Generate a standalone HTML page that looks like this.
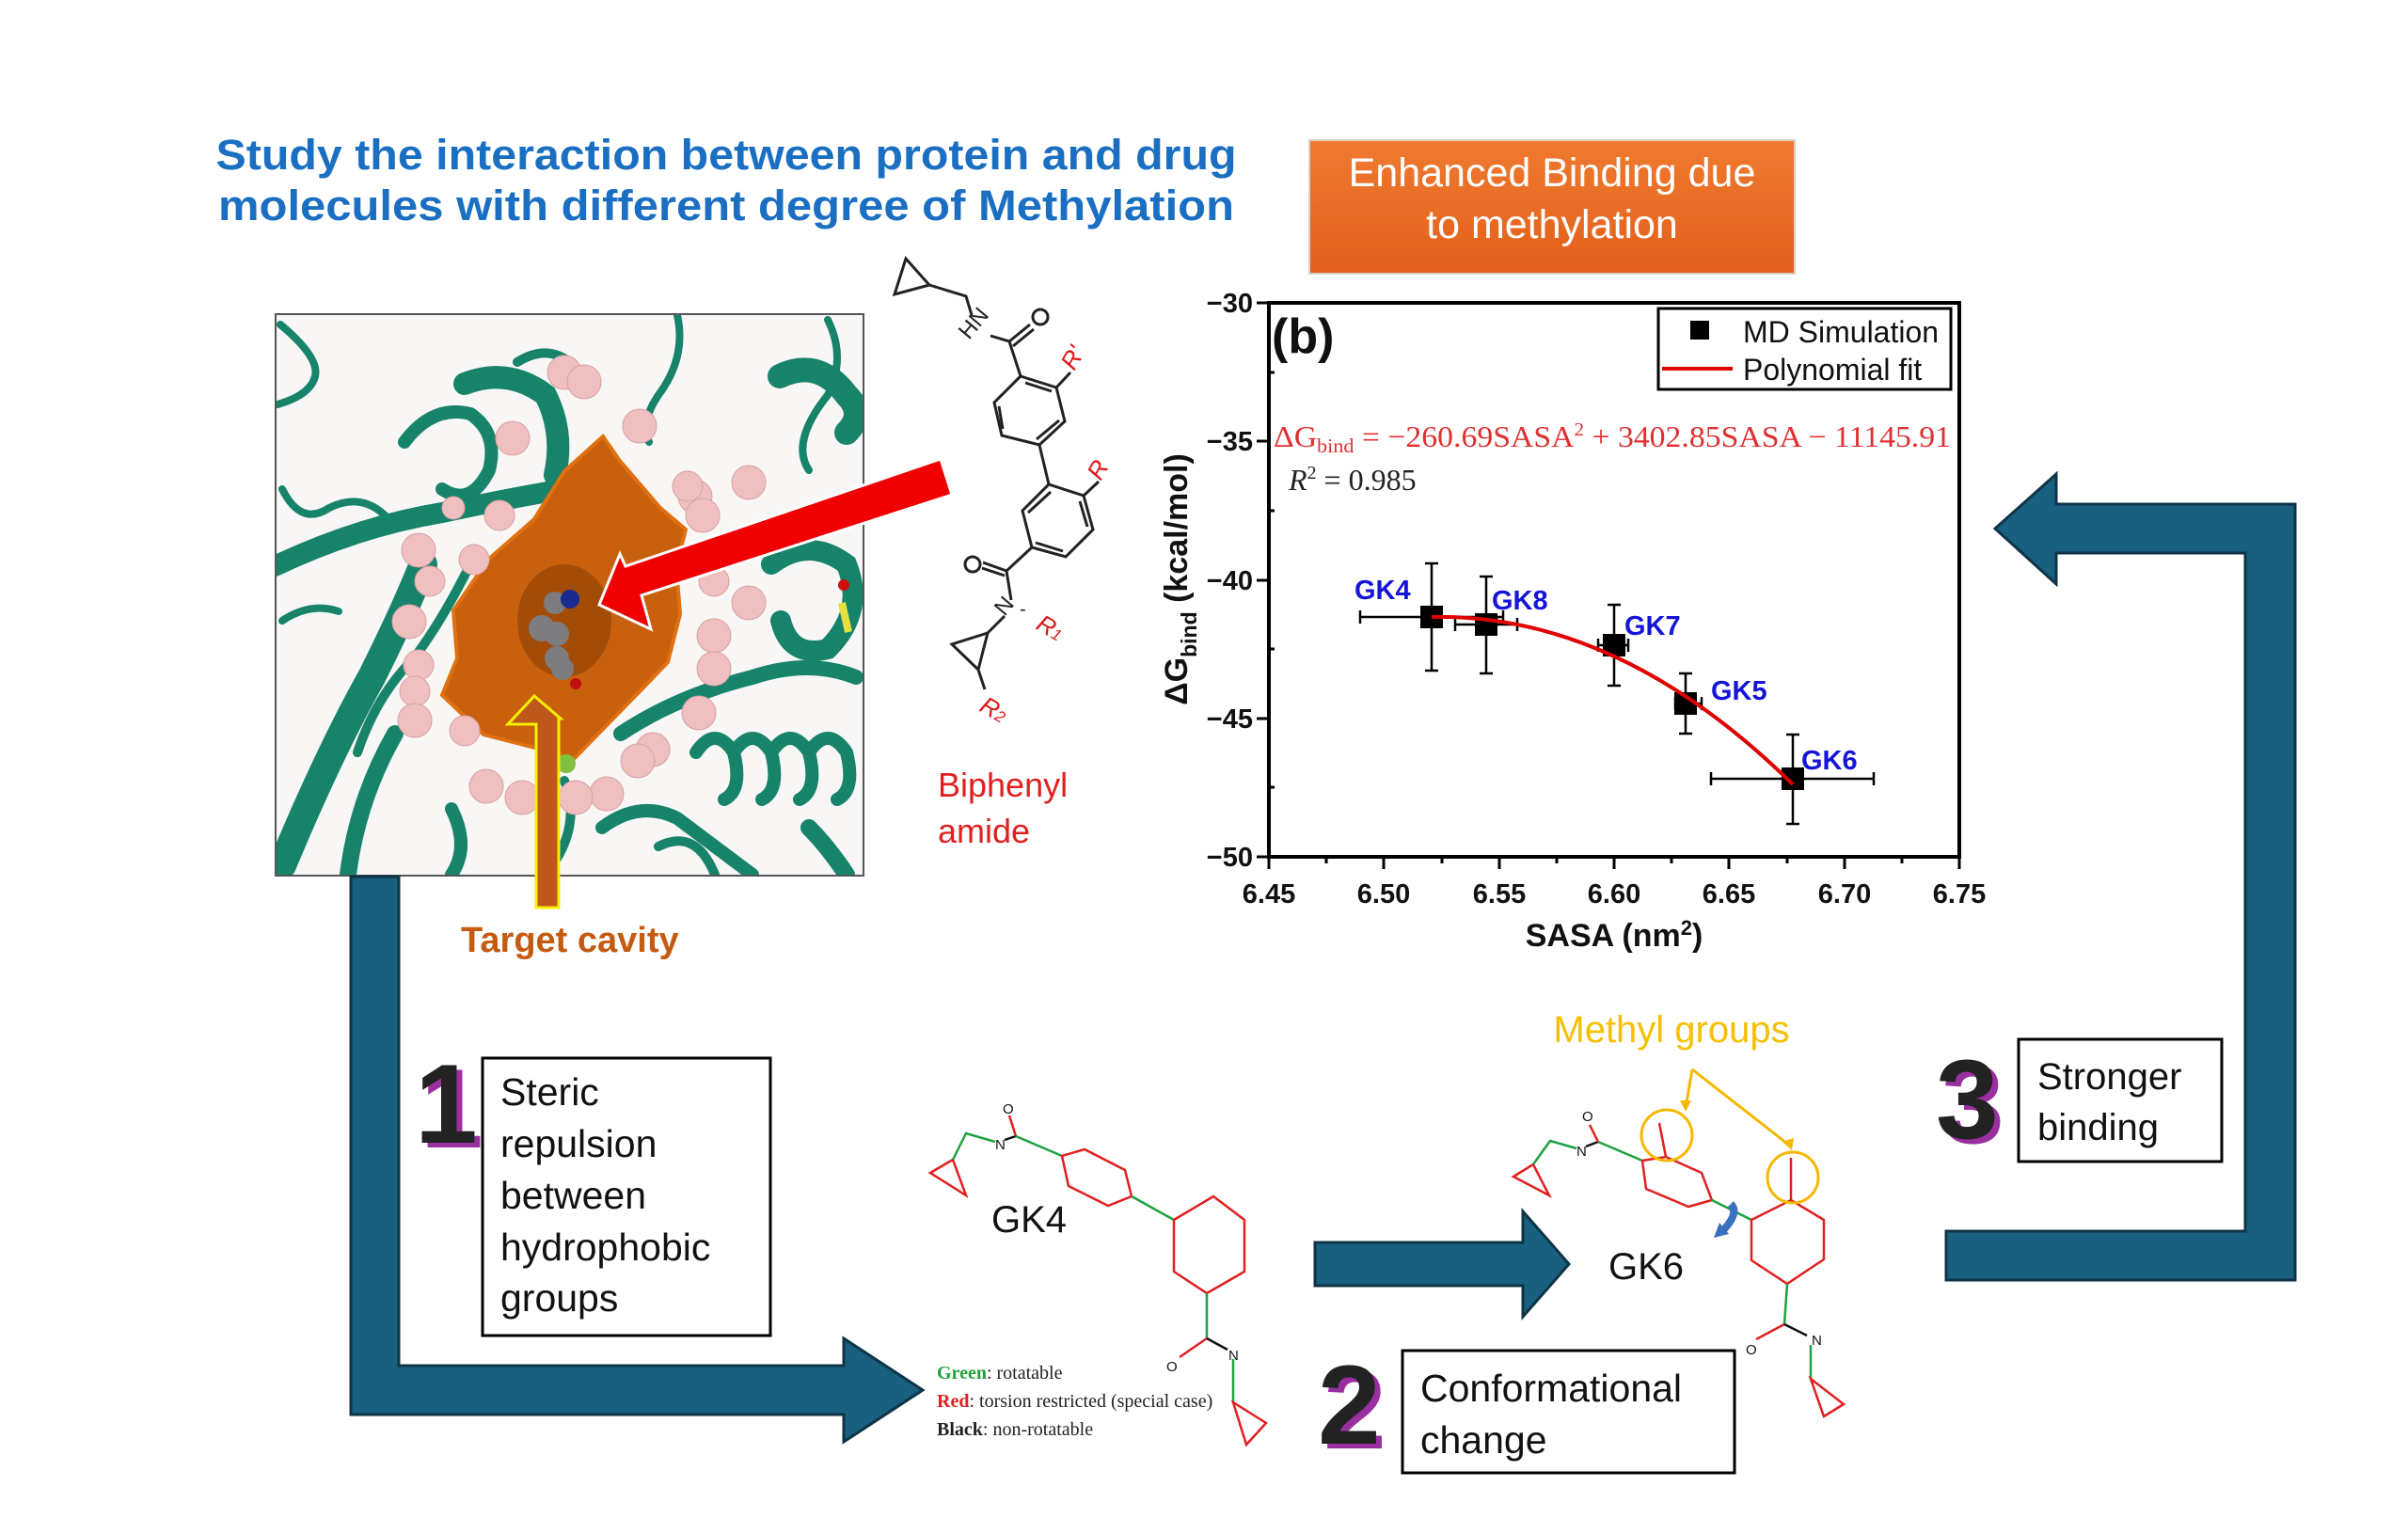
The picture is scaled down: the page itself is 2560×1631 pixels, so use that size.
<!DOCTYPE html>
<html><head><meta charset="utf-8"><style>
html,body{margin:0;padding:0;background:#fff;}
svg{display:block;}
</style></head><body>
<svg width="2560" height="1631" viewBox="0 0 2560 1631" xmlns="http://www.w3.org/2000/svg" font-family="Liberation Sans, sans-serif">
<defs>
<linearGradient id="og" x1="0" y1="0" x2="0" y2="1"><stop offset="0" stop-color="#f07a30"/><stop offset="1" stop-color="#e25f1a"/></linearGradient>
</defs>
<rect width="2560" height="1631" fill="#fff"/>

<text x="772" y="180" text-anchor="middle" font-size="45" font-weight="bold" fill="#1a6fc2" textLength="1085" lengthAdjust="spacingAndGlyphs">Study the interaction between protein and drug</text>
<text x="772" y="234" text-anchor="middle" font-size="45" font-weight="bold" fill="#1a6fc2" textLength="1080" lengthAdjust="spacingAndGlyphs">molecules with different degree of Methylation</text>

<rect x="1392" y="149" width="516" height="142" fill="url(#og)" stroke="#d9d0c8" stroke-width="2"/>
<text x="1650" y="198" text-anchor="middle" font-size="43" fill="#fff">Enhanced Binding due</text>
<text x="1650" y="253" text-anchor="middle" font-size="43" fill="#fff">to methylation</text>

<g>
<rect x="293" y="334" width="625" height="597" fill="#f8f7f5" stroke="#555" stroke-width="2"/>
<clipPath id="pc"><rect x="294" y="335" width="623" height="595"/></clipPath>
<g clip-path="url(#pc)" fill="none" stroke="#17836a" stroke-linecap="round">
<path d="M298,345 Q340,380 335,400 Q330,420 295,430" stroke-width="8"/>
<path d="M292,602 Q380,560 470,545 Q540,530 600,520" stroke-width="22"/>
<path d="M300,920 Q350,800 395,720 Q430,650 450,600" stroke-width="30"/>
<path d="M370,930 Q380,850 420,780" stroke-width="18"/>
<path d="M430,470 Q460,430 500,440 Q530,460 520,500 Q500,540 470,520" stroke-width="14"/>
<path d="M494,408 Q540,390 580,420 Q600,460 590,505" stroke-width="24"/>
<path d="M550,385 Q590,360 620,400" stroke-width="10"/>
<path d="M420,560 Q390,520 350,540 Q320,560 300,520" stroke-width="8"/>
<path d="M300,660 Q330,640 360,650" stroke-width="8"/>
<path d="M720,335 Q730,380 700,420 Q680,450 690,470" stroke-width="8"/>
<path d="M829,400 Q870,380 900,420 Q920,440 900,460" stroke-width="26"/>
<path d="M880,340 Q900,380 880,420 Q840,470 860,500" stroke-width="8"/>
<path d="M820,600 Q860,570 900,600 Q920,650 880,690 Q840,700 830,660" stroke-width="22"/>
<path d="M660,780 Q720,740 800,720 Q860,700 910,720" stroke-width="16"/>
<path d="M740,800 Q760,770 780,800 Q790,840 770,850 M780,800 Q800,770 820,800 Q830,840 810,850 M820,800 Q840,770 860,800 Q870,840 850,850 M860,800 Q880,770 900,800 Q910,840 890,850" stroke-width="14"/>
<path d="M640,880 Q680,850 720,870 Q760,900 800,930" stroke-width="14"/>
<path d="M480,860 Q500,900 480,930" stroke-width="14"/>
<path d="M600,830 Q620,880 580,930" stroke-width="10"/>
<path d="M700,900 Q740,880 760,930" stroke-width="10"/>
<path d="M860,880 Q880,900 900,930" stroke-width="18"/>
<path d="M500,600 Q470,660 440,700 Q400,740 380,800" stroke-width="10"/>
<path d="M760,600 Q800,580 830,560" stroke-width="10"/>
</g>
<g clip-path="url(#pc)">
<polygon points="641,464 659,490 702,540 729,563 719,602 723,653 710,704 688,727 608,809 592,801 514,781 470,739 486,700 482,649 519,595 568,552 600,501" fill="#c8600e" stroke="#e07010" stroke-width="4"/>
<ellipse cx="600" cy="660" rx="50" ry="60" fill="#8a3f05" opacity="0.6"/>
<g fill="#f0c0c0" stroke="#d8a0a0" stroke-width="1">
<circle cx="600" cy="396" r="18"/><circle cx="621" cy="406" r="18"/><circle cx="680" cy="453" r="18"/><circle cx="545" cy="466" r="18"/><circle cx="796" cy="513" r="18"/><circle cx="739" cy="528" r="18"/><circle cx="747" cy="548" r="18"/><circle cx="445" cy="585" r="18"/><circle cx="504" cy="595" r="16"/><circle cx="435" cy="661" r="18"/><circle cx="457" cy="618" r="16"/><circle cx="445" cy="707" r="16"/><circle cx="441" cy="735" r="16"/><circle cx="441" cy="766" r="18"/><circle cx="796" cy="641" r="18"/><circle cx="759" cy="676" r="18"/><circle cx="759" cy="711" r="18"/><circle cx="743" cy="758" r="18"/><circle cx="694" cy="797" r="18"/><circle cx="678" cy="809" r="18"/><circle cx="645" cy="844" r="18"/><circle cx="612" cy="848" r="18"/><circle cx="517" cy="836" r="18"/><circle cx="555" cy="848" r="18"/><circle cx="494" cy="777" r="16"/><circle cx="531" cy="548" r="16"/><circle cx="482" cy="540" r="12"/><circle cx="731" cy="517" r="16"/><circle cx="759" cy="618" r="16"/>
</g>
<g fill="#7d7d80"><circle cx="590" cy="641" r="12"/><circle cx="576" cy="668" r="14"/><circle cx="592" cy="674" r="13"/><circle cx="592" cy="700" r="13"/><circle cx="598" cy="711" r="12"/></g>
<circle cx="606" cy="637" r="10" fill="#1a2a90"/><circle cx="612" cy="727" r="6" fill="#c01010"/>
<circle cx="602" cy="812" r="10" fill="#80c040"/>
<path d="M895,641 L902,672" stroke="#e6e040" stroke-width="8"/><circle cx="897" cy="622" r="6" fill="#d01010"/>
</g>
<polygon points="1000,488 1012,526 682,633 692,669 637,643 659,589 665,602" fill="#f00000" stroke="#fff" stroke-width="3"/>
<polygon points="570,965 570,770 540,770 568,740 596,764 594,764 594,965" fill="#c0581c" stroke="#f5f000" stroke-width="3"/>
</g>
<text x="490" y="1012" font-size="38" font-weight="bold" fill="#c55a11">Target cavity</text>

<g fill="none" stroke="#222" stroke-width="3">
<polygon points="951,313 963,275 988,303"/>
<polyline points="988,303 1027,315 1033,335"/>
<polyline points="1053,357 1073,363 1085,400"/>
<line x1="1073" y1="363" x2="1095" y2="345"/><line x1="1077" y1="368" x2="1099" y2="350"/>
<circle cx="1106" cy="337" r="8"/>
<polygon points="1085,400 1123,412 1132,448 1105,473 1065,463 1057,428"/>
<line x1="1090" y1="407" x2="1118" y2="416"/><line x1="1126" y1="447" x2="1102" y2="467"/><line x1="1066" y1="456" x2="1062" y2="432"/>
<line x1="1123" y1="412" x2="1138" y2="396"/>
<line x1="1105" y1="473" x2="1115" y2="515"/>
<polygon points="1115,515 1152,527 1162,563 1133,592 1097,582 1087,543"/>
<line x1="1148" y1="533" x2="1156" y2="560"/><line x1="1130" y1="586" x2="1101" y2="577"/><line x1="1093" y1="545" x2="1117" y2="523"/>
<line x1="1152" y1="527" x2="1168" y2="512"/>
<polyline points="1097,582 1070,607 1075,638"/>
<line x1="1070" y1="607" x2="1045" y2="598"/><line x1="1068" y1="612" x2="1044" y2="604"/>
<circle cx="1034" cy="600" r="8"/>
<line x1="1068" y1="655" x2="1050" y2="673"/>
<polygon points="1050,673 1012,685 1040,712"/>
<line x1="1040" y1="712" x2="1047" y2="733"/>
</g>
<text x="1030" y="362" font-size="24" fill="#222" transform="rotate(-50 1030 362)">HN</text>
<text x="1068" y="656" font-size="24" fill="#222" transform="rotate(-50 1068 656)">N</text>
<text x="1084" y="654" font-size="20" fill="#222">-</text>
<g fill="#e01818" font-style="italic" font-size="26">
<text x="1142" y="395" transform="rotate(-60 1142 395)">R'</text>
<text x="1170" y="512" transform="rotate(-60 1170 512)">R</text>
<text x="1100" y="668" transform="rotate(30 1100 668)">R<tspan font-size="17">1</tspan></text>
<text x="1040" y="755" transform="rotate(30 1040 755)">R<tspan font-size="17">2</tspan></text>
</g>
<text x="997" y="847" font-size="36" fill="#e02020">Biphenyl</text>
<text x="997" y="896" font-size="36" fill="#e02020">amide</text>

<g>
<rect x="1349" y="322" width="734" height="589" fill="none" stroke="#000" stroke-width="4"/>
<g stroke="#000" stroke-width="3">
<line x1="1349" y1="911" x2="1349" y2="924"/><line x1="1471" y1="911" x2="1471" y2="924"/><line x1="1594" y1="911" x2="1594" y2="924"/><line x1="1716" y1="911" x2="1716" y2="924"/><line x1="1838" y1="911" x2="1838" y2="924"/><line x1="1961" y1="911" x2="1961" y2="924"/><line x1="2083" y1="911" x2="2083" y2="924"/>
<line x1="1410" y1="911" x2="1410" y2="918"/><line x1="1533" y1="911" x2="1533" y2="918"/><line x1="1655" y1="911" x2="1655" y2="918"/><line x1="1777" y1="911" x2="1777" y2="918"/><line x1="1900" y1="911" x2="1900" y2="918"/><line x1="2022" y1="911" x2="2022" y2="918"/>
<line x1="1336" y1="322" x2="1349" y2="322"/><line x1="1336" y1="469" x2="1349" y2="469"/><line x1="1336" y1="617" x2="1349" y2="617"/><line x1="1336" y1="764" x2="1349" y2="764"/><line x1="1336" y1="911" x2="1349" y2="911"/>
<line x1="1349" y1="396" x2="1355" y2="396"/><line x1="1349" y1="543" x2="1355" y2="543"/><line x1="1349" y1="690" x2="1355" y2="690"/><line x1="1349" y1="837" x2="1355" y2="837"/>
</g>
<g font-size="29" font-weight="bold" fill="#111" text-anchor="middle">
<text x="1349" y="960">6.45</text><text x="1471" y="960">6.50</text><text x="1594" y="960">6.55</text><text x="1716" y="960">6.60</text><text x="1838" y="960">6.65</text><text x="1961" y="960">6.70</text><text x="2083" y="960">6.75</text>
</g>
<g font-size="29" font-weight="bold" fill="#111" text-anchor="end">
<text x="1332" y="332">−30</text><text x="1332" y="479">−35</text><text x="1332" y="627">−40</text><text x="1332" y="774">−45</text><text x="1332" y="921">−50</text>
</g>
<text x="1716" y="1006" text-anchor="middle" font-size="34" font-weight="bold" fill="#111">SASA (nm<tspan dy="-12" font-size="22">2</tspan><tspan dy="12">)</tspan></text>
<text transform="translate(1262,616) rotate(-90)" text-anchor="middle" font-size="34" font-weight="bold" fill="#111">ΔG<tspan dy="10" font-size="23">bind</tspan><tspan dy="-10"> (kcal/mol)</tspan></text>
<text x="1352" y="375" font-size="52" font-weight="bold" fill="#111">(b)</text>
<rect x="1763" y="328" width="311" height="86" fill="#fff" stroke="#000" stroke-width="3"/>
<rect x="1797" y="341" width="20" height="20" fill="#000"/>
<text x="1853" y="364" font-size="32" fill="#111">MD Simulation</text>
<line x1="1767" y1="392" x2="1842" y2="392" stroke="#e00000" stroke-width="4"/>
<text x="1853" y="404" font-size="32" fill="#111">Polynomial fit</text>
<text x="1354" y="475" font-family="Liberation Serif, serif" font-size="32" fill="#e03030" textLength="720" lengthAdjust="spacingAndGlyphs">ΔG<tspan font-size="21" dy="6">bind</tspan><tspan dy="-6"> = −260.69SASA</tspan><tspan font-size="20" dy="-12">2</tspan><tspan dy="12"> + 3402.85SASA − 11145.91</tspan></text>
<text x="1370" y="521" font-family="Liberation Serif, serif" font-size="32" fill="#222"><tspan font-style="italic">R</tspan><tspan font-size="20" dy="-12">2</tspan><tspan dy="12"> = 0.985</tspan></text>
<g stroke="#000" stroke-width="2.5">
<line x1="1522" y1="599" x2="1522" y2="713"/><line x1="1515" y1="599" x2="1529" y2="599"/><line x1="1515" y1="713" x2="1529" y2="713"/>
<line x1="1446" y1="656" x2="1598" y2="656"/><line x1="1446" y1="649" x2="1446" y2="663"/><line x1="1598" y1="649" x2="1598" y2="663"/>
<line x1="1580" y1="613" x2="1580" y2="716"/><line x1="1573" y1="613" x2="1587" y2="613"/><line x1="1573" y1="716" x2="1587" y2="716"/>
<line x1="1547" y1="664" x2="1613" y2="664"/><line x1="1547" y1="657" x2="1547" y2="671"/><line x1="1613" y1="657" x2="1613" y2="671"/>
<line x1="1716" y1="643" x2="1716" y2="729"/><line x1="1709" y1="643" x2="1723" y2="643"/><line x1="1709" y1="729" x2="1723" y2="729"/>
<line x1="1699" y1="686" x2="1731" y2="686"/><line x1="1699" y1="679" x2="1699" y2="693"/><line x1="1731" y1="679" x2="1731" y2="693"/>
<line x1="1792" y1="716" x2="1792" y2="780"/><line x1="1785" y1="716" x2="1799" y2="716"/><line x1="1785" y1="780" x2="1799" y2="780"/>
<line x1="1781" y1="748" x2="1809" y2="748"/><line x1="1781" y1="741" x2="1781" y2="755"/><line x1="1809" y1="741" x2="1809" y2="755"/>
<line x1="1906" y1="781" x2="1906" y2="876"/><line x1="1899" y1="781" x2="1913" y2="781"/><line x1="1899" y1="876" x2="1913" y2="876"/>
<line x1="1819" y1="828" x2="1992" y2="828"/><line x1="1819" y1="821" x2="1819" y2="835"/><line x1="1992" y1="821" x2="1992" y2="835"/>
</g>
<g fill="#000">
<rect x="1510" y="644" width="24" height="24"/><rect x="1568" y="652" width="24" height="24"/><rect x="1704" y="674" width="24" height="24"/><rect x="1780" y="736" width="24" height="24"/><rect x="1894" y="816" width="24" height="24"/>
</g>
<path d="M1522,656 Q1721,652 1906,834" fill="none" stroke="#e00000" stroke-width="4"/>
<g font-size="29" font-weight="bold" fill="#1515d8">
<text x="1440" y="637">GK4</text><text x="1586" y="648">GK8</text><text x="1727" y="675">GK7</text><text x="1819" y="744">GK5</text><text x="1915" y="818">GK6</text>
</g>
</g>

<g fill="#185f80" stroke="#0e3446" stroke-width="3">
<polygon points="373,932 424,932 424,1452 897,1452 897,1423 981,1478 897,1533 897,1504 373,1504"/>
<polygon points="1398,1321 1619,1321 1619,1288 1668,1344 1619,1400 1619,1367 1398,1367"/>
<polygon points="2440,536 2440,1361 2069,1361 2069,1309 2387,1309 2387,588 2186,588 2186,621 2121,562 2186,504 2186,536"/>
</g>

<rect x="513" y="1125" width="306" height="295" fill="#fff" stroke="#000" stroke-width="3"/>
<g font-size="41" fill="#111">
<text x="532" y="1175">Steric</text><text x="532" y="1230">repulsion</text><text x="532" y="1285">between</text><text x="532" y="1340">hydrophobic</text><text x="532" y="1394">groups</text>
</g>
<text x="447" y="1220" font-size="120" font-weight="bold" fill="#9a30a0">1</text>
<text x="441" y="1215" font-size="120" font-weight="bold" fill="#222">1</text>

<rect x="1491" y="1436" width="353" height="130" fill="#fff" stroke="#000" stroke-width="3"/>
<text x="1510" y="1490" font-size="41" fill="#111">Conformational</text>
<text x="1510" y="1545" font-size="41" fill="#111">change</text>
<text x="1407" y="1540" font-size="120" font-weight="bold" fill="#9a30a0">2</text>
<text x="1401" y="1535" font-size="120" font-weight="bold" fill="#222">2</text>

<rect x="2146" y="1105" width="216" height="130" fill="#fff" stroke="#000" stroke-width="3"/>
<text x="2166" y="1158" font-size="40" fill="#111">Stronger</text>
<text x="2166" y="1212" font-size="40" fill="#111">binding</text>
<text x="2064" y="1215" font-size="120" font-weight="bold" fill="#9a30a0">3</text>
<text x="2058" y="1210" font-size="120" font-weight="bold" fill="#222">3</text>

<g fill="none" stroke-width="2.5">
<polygon points="989,1247 1013,1233 1027,1271" stroke="#e02020"/>
<polyline points="1013,1233 1027,1205 1058,1214" stroke="#20a040"/>
<line x1="1068" y1="1212" x2="1080" y2="1208" stroke="#111"/>
<line x1="1080" y1="1208" x2="1073" y2="1186" stroke="#e02020"/>
<line x1="1080" y1="1208" x2="1129" y2="1229" stroke="#20a040"/>
<polygon points="1129,1229 1153,1222 1196,1244 1203,1272 1178,1282 1136,1261" stroke="#e02020"/>
<line x1="1203" y1="1272" x2="1248" y2="1297" stroke="#20a040"/>
<polygon points="1248,1297 1290,1272 1323,1297 1323,1352 1283,1375 1248,1352" stroke="#e02020"/>
<line x1="1283" y1="1375" x2="1283" y2="1423" stroke="#20a040"/>
<line x1="1283" y1="1423" x2="1254" y2="1443" stroke="#e02020"/>
<line x1="1283" y1="1423" x2="1305" y2="1435" stroke="#111"/>
<line x1="1311" y1="1445" x2="1311" y2="1491" stroke="#20a040"/>
<polygon points="1311,1491 1346,1513 1325,1536" stroke="#e02020"/>
</g>
<g font-size="15" fill="#111"><text x="1066" y="1184">O</text><text x="1058" y="1222">N</text><text x="1240" y="1458">O</text><text x="1306" y="1446">N</text></g>
<text x="1094" y="1310" text-anchor="middle" font-size="40" fill="#111">GK4</text>
<g font-family="Liberation Serif, serif" font-size="20" fill="#222">
<text x="996" y="1466"><tspan fill="#20a040" font-weight="bold">Green</tspan>: rotatable</text>
<text x="996" y="1496"><tspan fill="#e02020" font-weight="bold">Red</tspan>: torsion restricted (special case)</text>
<text x="996" y="1526"><tspan font-weight="bold">Black</tspan>: non-rotatable</text>
</g>

<g fill="none" stroke-width="2.5">
<polygon points="1609,1251 1630,1238 1647,1271" stroke="#e02020"/>
<polyline points="1630,1238 1648,1213 1676,1221" stroke="#20a040"/>
<line x1="1686" y1="1219" x2="1699" y2="1214" stroke="#111"/>
<line x1="1699" y1="1214" x2="1690" y2="1196" stroke="#e02020"/>
<line x1="1699" y1="1214" x2="1746" y2="1234" stroke="#20a040"/>
<polygon points="1746,1234 1771,1230 1809,1247 1820,1276 1795,1283 1750,1264" stroke="#e02020"/>
<line x1="1771" y1="1230" x2="1764" y2="1194" stroke="#e02020"/>
<line x1="1820" y1="1276" x2="1862" y2="1297" stroke="#20a040"/>
<polygon points="1862,1297 1904,1276 1939,1297 1939,1339 1900,1365 1862,1340" stroke="#e02020"/>
<line x1="1904" y1="1276" x2="1904" y2="1231" stroke="#e02020"/>
<line x1="1900" y1="1365" x2="1897" y2="1408" stroke="#20a040"/>
<line x1="1897" y1="1408" x2="1867" y2="1424" stroke="#e02020"/>
<line x1="1897" y1="1408" x2="1921" y2="1420" stroke="#111"/>
<line x1="1925" y1="1430" x2="1925" y2="1466" stroke="#20a040"/>
<polygon points="1925,1466 1960,1493 1939,1506" stroke="#e02020"/>
<circle cx="1772" cy="1207" r="27" stroke="#f5b800" stroke-width="3"/>
<circle cx="1906" cy="1252" r="27" stroke="#f5b800" stroke-width="3"/>
<polyline points="1799,1137 1792,1178" stroke="#f5b800" stroke-width="3"/>
<polyline points="1799,1137 1904,1219" stroke="#f5b800" stroke-width="3"/>
<path d="M1830,1310 Q1850,1290 1840,1280" stroke="#3a70c0" stroke-width="8"/>
</g>
<polygon points="1786,1170 1798,1170 1792,1182" fill="#f5b800"/>
<polygon points="1895,1214 1907,1210 1905,1223" fill="#f5b800"/>
<polygon points="1828,1300 1822,1316 1838,1312" fill="#3a70c0"/>
<g font-size="15" fill="#111"><text x="1682" y="1192">O</text><text x="1676" y="1229">N</text><text x="1856" y="1440">O</text><text x="1926" y="1430">N</text></g>
<text x="1750" y="1360" text-anchor="middle" font-size="40" fill="#111">GK6</text>
<text x="1777" y="1108" text-anchor="middle" font-size="40" fill="#f5c000">Methyl groups</text>
</svg>
</body></html>
